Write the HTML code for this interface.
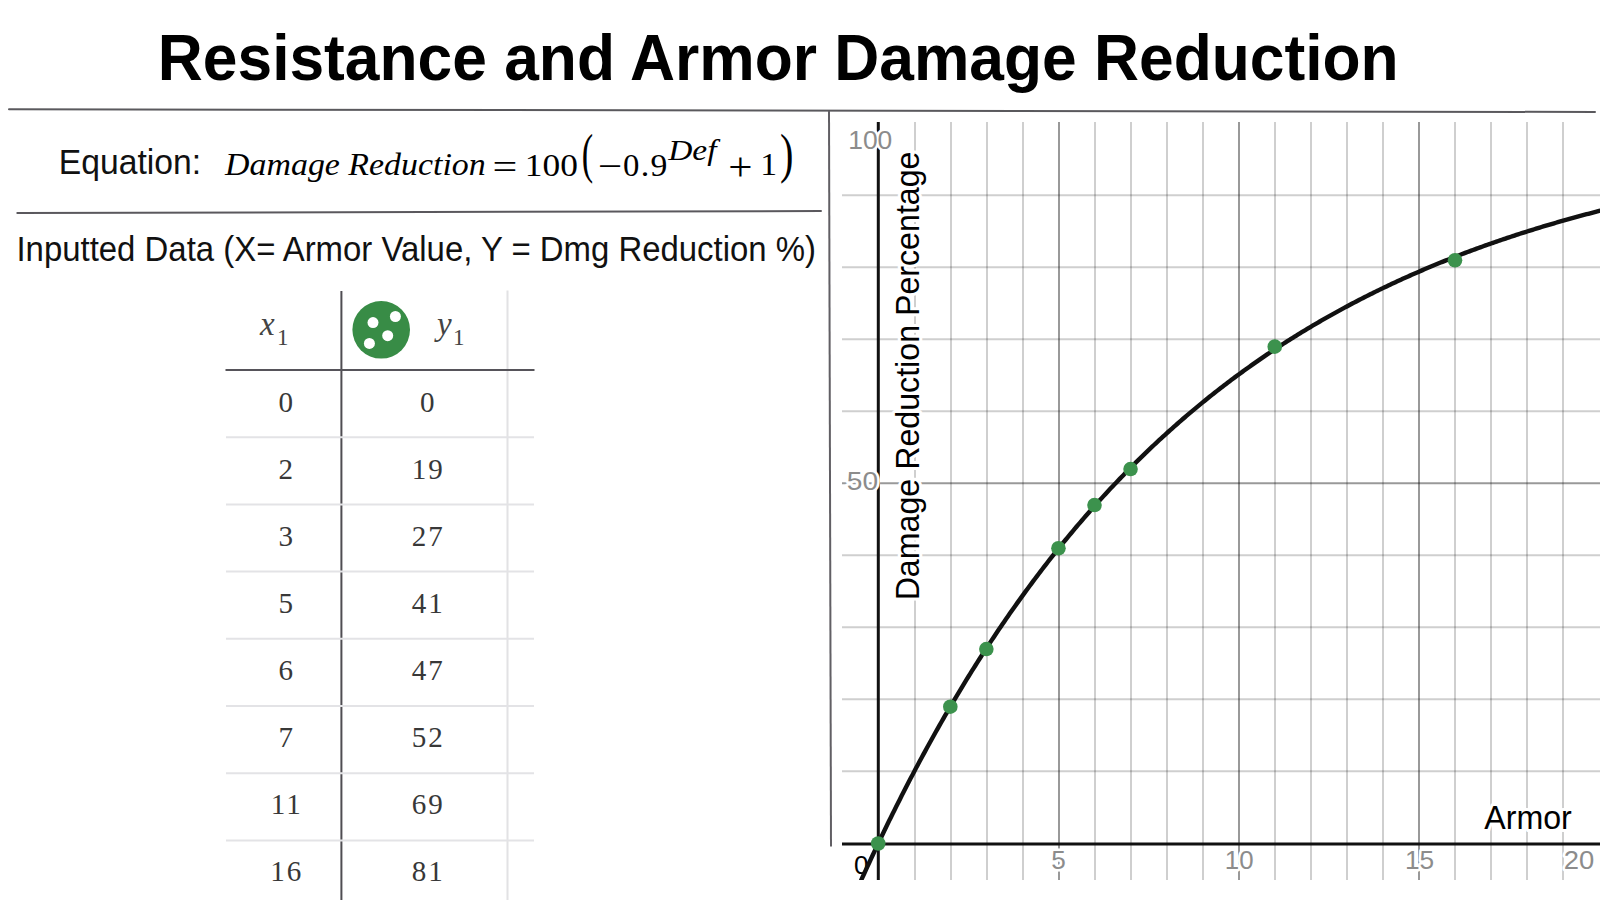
<!DOCTYPE html>
<html><head><meta charset="utf-8"><title>Resistance and Armor Damage Reduction</title>
<style>
html,body{margin:0;padding:0;background:#fff;width:1600px;height:900px;overflow:hidden}
svg{display:block}
.sans{font-family:"Liberation Sans",Arial,sans-serif}
.serif{font-family:"Liberation Serif","Times New Roman",serif}
.lbl{font-family:"Liberation Sans",Arial,sans-serif;paint-order:stroke;stroke:#fff;stroke-linejoin:round}
</style></head><body>
<svg width="1600" height="900" viewBox="0 0 1600 900">
<rect width="1600" height="900" fill="#fff"/>

<g class="sans" font-weight="bold" fill="#000"><text transform="translate(157.84,79.90) scale(1.0004,1.046)" font-size="62.3" >Resistance and Armor Damage Reduction</text></g>
<line x1="9" y1="109.2" x2="1595" y2="112" stroke="#5a595d" stroke-width="2" stroke-linecap="round"/>
<line x1="17.3" y1="213" x2="821" y2="211" stroke="#5a585d" stroke-width="2" stroke-linecap="round"/>
<line x1="829" y1="111" x2="831" y2="846.5" stroke="#615f64" stroke-width="2"/>
<g class="sans" fill="#111"><text transform="translate(58.80,173.80) scale(0.9913,1.05)" font-size="34" >Equation:</text></g>
<g class="serif" fill="#000">
<text transform="translate(225.04,175.30) scale(1.0595,1)" font-size="32" font-style="italic">Damage Reduction</text>
<text transform="matrix(1.3763,0,0,1.1250,492.60,178.56)" font-size="32" >=</text>
<text transform="translate(524.81,175.70) scale(1.1063,1)" font-size="32" >100</text>
<text transform="matrix(1.0697,0,0,1.7083,581.83,171.92)" font-size="32" >(</text>
<text transform="matrix(1.3464,0,0,1.1250,597.85,178.46)" font-size="32" >−</text>
<text transform="translate(622.94,176.00) scale(1.0231,1)" font-size="32" >0</text>
<text transform="translate(640.86,176.00) scale(1.0653,1)" font-size="32" >.</text>
<text transform="translate(650.49,176.00) scale(1.0538,1)" font-size="32" >9</text>
<text transform="translate(668.23,160.00) scale(1.1335,1)" font-size="29.5" font-style="italic">Def</text>
<text transform="matrix(1.3431,0,0,1.2708,728.25,179.77)" font-size="32" >+</text>
<text transform="matrix(1.0536,0,0,0.9943,760.17,175.30)" font-size="32" >1</text>
<text transform="matrix(1.2620,0,0,1.7188,779.99,171.65)" font-size="32" >)</text>
</g>
<g class="sans" fill="#111"><text transform="translate(16.44,260.70) scale(0.9977,1.055)" font-size="33" >Inputted Data (X= Armor Value, Y = Dmg Reduction %)</text></g>
<g>
<line x1="341.4" y1="291" x2="341.4" y2="900" stroke="#4f4d52" stroke-width="2"/>
<line x1="507.5" y1="290.5" x2="507.5" y2="900" stroke="#e2e2e4" stroke-width="2"/>
<line x1="225.5" y1="370" x2="534.5" y2="370" stroke="#56545a" stroke-width="2.2"/>
<line x1="226" y1="437.2" x2="534" y2="437.2" stroke="#e3e3e6" stroke-width="2"/>
<line x1="226" y1="504.4" x2="534" y2="504.4" stroke="#e3e3e6" stroke-width="2"/>
<line x1="226" y1="571.6" x2="534" y2="571.6" stroke="#e3e3e6" stroke-width="2"/>
<line x1="226" y1="638.8" x2="534" y2="638.8" stroke="#e3e3e6" stroke-width="2"/>
<line x1="226" y1="706.0" x2="534" y2="706.0" stroke="#e3e3e6" stroke-width="2"/>
<line x1="226" y1="773.2" x2="534" y2="773.2" stroke="#e3e3e6" stroke-width="2"/>
<line x1="226" y1="840.4" x2="534" y2="840.4" stroke="#e3e3e6" stroke-width="2"/>
<g class="serif" fill="#444">
<text x="260" y="334.5" font-size="33" font-style="italic">x</text>
<text x="277" y="345" font-size="23">1</text>
<text x="437" y="334.5" font-size="33" font-style="italic">y</text>
<text x="453" y="345" font-size="23">1</text>
</g>
<circle cx="381.2" cy="329.8" r="28.8" fill="#388c46"/>
<circle cx="373.0" cy="322.6" r="5.5" fill="#fff"/>
<circle cx="395.4" cy="316.5" r="5.5" fill="#fff"/>
<circle cx="387.7" cy="335.7" r="5.5" fill="#fff"/>
<circle cx="369.4" cy="343.4" r="5.5" fill="#fff"/>
<g class="serif" font-size="30" fill="#383838" text-anchor="middle" letter-spacing="2">
<text transform="translate(286.8,412.1) scale(0.97,1)">0</text><text transform="translate(428.2,412.1) scale(0.97,1)">0</text>
<text transform="translate(286.8,479.0) scale(0.97,1)">2</text><text transform="translate(428.2,479.0) scale(0.97,1)">19</text>
<text transform="translate(286.8,546.0) scale(0.97,1)">3</text><text transform="translate(428.2,546.0) scale(0.97,1)">27</text>
<text transform="translate(286.8,612.9) scale(0.97,1)">5</text><text transform="translate(428.2,612.9) scale(0.97,1)">41</text>
<text transform="translate(286.8,679.8) scale(0.97,1)">6</text><text transform="translate(428.2,679.8) scale(0.97,1)">47</text>
<text transform="translate(286.8,746.8) scale(0.97,1)">7</text><text transform="translate(428.2,746.8) scale(0.97,1)">52</text>
<text transform="translate(286.8,813.7) scale(0.97,1)">11</text><text transform="translate(428.2,813.7) scale(0.97,1)">69</text>
<text transform="translate(286.8,880.6) scale(0.97,1)">16</text><text transform="translate(428.2,880.6) scale(0.97,1)">81</text>
</g>
</g>
<defs><clipPath id="gc"><rect x="842" y="122" width="758" height="758"/></clipPath></defs>
<g clip-path="url(#gc)">
<line x1="915.00" y1="122" x2="915.00" y2="880" stroke="rgba(0,0,0,0.19)" stroke-width="2"/>
<line x1="951.00" y1="122" x2="951.00" y2="880" stroke="rgba(0,0,0,0.19)" stroke-width="2"/>
<line x1="987.00" y1="122" x2="987.00" y2="880" stroke="rgba(0,0,0,0.19)" stroke-width="2"/>
<line x1="1023.00" y1="122" x2="1023.00" y2="880" stroke="rgba(0,0,0,0.19)" stroke-width="2"/>
<line x1="1059.00" y1="122" x2="1059.00" y2="880" stroke="rgba(0,0,0,0.4)" stroke-width="2"/>
<line x1="1095.00" y1="122" x2="1095.00" y2="880" stroke="rgba(0,0,0,0.19)" stroke-width="2"/>
<line x1="1131.00" y1="122" x2="1131.00" y2="880" stroke="rgba(0,0,0,0.19)" stroke-width="2"/>
<line x1="1167.00" y1="122" x2="1167.00" y2="880" stroke="rgba(0,0,0,0.19)" stroke-width="2"/>
<line x1="1203.00" y1="122" x2="1203.00" y2="880" stroke="rgba(0,0,0,0.19)" stroke-width="2"/>
<line x1="1239.00" y1="122" x2="1239.00" y2="880" stroke="rgba(0,0,0,0.4)" stroke-width="2"/>
<line x1="1275.00" y1="122" x2="1275.00" y2="880" stroke="rgba(0,0,0,0.19)" stroke-width="2"/>
<line x1="1311.00" y1="122" x2="1311.00" y2="880" stroke="rgba(0,0,0,0.19)" stroke-width="2"/>
<line x1="1347.00" y1="122" x2="1347.00" y2="880" stroke="rgba(0,0,0,0.19)" stroke-width="2"/>
<line x1="1383.00" y1="122" x2="1383.00" y2="880" stroke="rgba(0,0,0,0.19)" stroke-width="2"/>
<line x1="1419.00" y1="122" x2="1419.00" y2="880" stroke="rgba(0,0,0,0.4)" stroke-width="2"/>
<line x1="1455.00" y1="122" x2="1455.00" y2="880" stroke="rgba(0,0,0,0.19)" stroke-width="2"/>
<line x1="1491.00" y1="122" x2="1491.00" y2="880" stroke="rgba(0,0,0,0.19)" stroke-width="2"/>
<line x1="1527.00" y1="122" x2="1527.00" y2="880" stroke="rgba(0,0,0,0.19)" stroke-width="2"/>
<line x1="1563.00" y1="122" x2="1563.00" y2="880" stroke="rgba(0,0,0,0.19)" stroke-width="2"/>
<line x1="842" y1="915.31" x2="1600" y2="915.31" stroke="rgba(0,0,0,0.19)" stroke-width="2"/>
<line x1="842" y1="771.29" x2="1600" y2="771.29" stroke="rgba(0,0,0,0.19)" stroke-width="2"/>
<line x1="842" y1="699.28" x2="1600" y2="699.28" stroke="rgba(0,0,0,0.19)" stroke-width="2"/>
<line x1="842" y1="627.27" x2="1600" y2="627.27" stroke="rgba(0,0,0,0.19)" stroke-width="2"/>
<line x1="842" y1="555.26" x2="1600" y2="555.26" stroke="rgba(0,0,0,0.19)" stroke-width="2"/>
<line x1="842" y1="483.25" x2="1600" y2="483.25" stroke="rgba(0,0,0,0.4)" stroke-width="2"/>
<line x1="842" y1="411.24" x2="1600" y2="411.24" stroke="rgba(0,0,0,0.19)" stroke-width="2"/>
<line x1="842" y1="339.23" x2="1600" y2="339.23" stroke="rgba(0,0,0,0.19)" stroke-width="2"/>
<line x1="842" y1="267.22" x2="1600" y2="267.22" stroke="rgba(0,0,0,0.19)" stroke-width="2"/>
<line x1="842" y1="195.21" x2="1600" y2="195.21" stroke="rgba(0,0,0,0.19)" stroke-width="2"/>
<line x1="842" y1="843.9" x2="1600" y2="843.9" stroke="#111" stroke-width="3"/>
<line x1="878.3" y1="122" x2="878.3" y2="880" stroke="#111" stroke-width="3"/>
</g>
<g class="lbl" fill="#8c8c8c" stroke-width="5">
<text transform="translate(848.19,148.60) scale(1.0161,1)" font-size="26" >100</text>
<text transform="translate(846.87,490.00) scale(1.0829,1)" font-size="26" >50</text>
<text transform="translate(1051.35,868.60) scale(1.0065,1)" font-size="26" >5</text>
<text transform="translate(1224.83,868.60) scale(0.9946,1)" font-size="26" >10</text>
<text transform="translate(1404.90,868.60) scale(1.0101,1)" font-size="26" >15</text>
<text transform="translate(1563.63,868.60) scale(1.0558,1)" font-size="26" >20</text>
</g>
<g class="lbl" fill="#000" stroke-width="5"><text transform="translate(853.96,873.60) scale(1.0016,1)" font-size="26" >0</text></g>
<g class="lbl" fill="#000" stroke-width="6"><text transform="translate(1484.20,829.10) scale(0.9973,1.04)" font-size="32.3" >Armor</text></g>
<g class="lbl" fill="#000" stroke-width="6" transform="translate(0,900) rotate(-90)"><text transform="translate(299.63,918.60) scale(0.9995,1.04)" font-size="32.2" >Damage Reduction Percentage</text></g>
<g clip-path="url(#gc)"><path d="M856.57,890.49 L858.37,886.46 L860.18,882.45 L861.98,878.46 L863.78,874.50 L865.58,870.55 L867.38,866.62 L869.19,862.72 L870.99,858.84 L872.79,854.97 L874.60,851.13 L876.40,847.30 L878.20,843.50 L880.00,839.72 L881.81,835.95 L883.61,832.21 L885.41,828.48 L887.21,824.78 L889.02,821.09 L890.82,817.43 L892.62,813.78 L894.42,810.16 L896.23,806.55 L898.03,802.96 L899.83,799.39 L901.63,795.84 L903.44,792.30 L905.24,788.79 L907.04,785.29 L908.84,781.81 L910.65,778.35 L912.45,774.91 L914.25,771.49 L916.05,768.08 L917.86,764.70 L919.66,761.33 L921.46,757.98 L923.26,754.64 L925.07,751.33 L926.87,748.03 L928.67,744.74 L930.47,741.48 L932.28,738.23 L934.08,735.00 L935.88,731.79 L937.68,728.59 L939.49,725.41 L941.29,722.25 L943.09,719.10 L944.89,715.97 L946.70,712.86 L948.50,709.76 L950.30,706.68 L952.10,703.62 L953.91,700.57 L955.71,697.54 L957.51,694.52 L959.31,691.52 L961.12,688.53 L962.92,685.56 L964.72,682.61 L966.52,679.67 L968.33,676.75 L970.13,673.84 L971.93,670.95 L973.73,668.07 L975.53,665.21 L977.34,662.36 L979.14,659.53 L980.94,656.72 L982.74,653.91 L984.55,651.13 L986.35,648.35 L988.15,645.59 L989.95,642.85 L991.76,640.12 L993.56,637.41 L995.36,634.71 L997.16,632.02 L998.97,629.35 L1000.77,626.69 L1002.57,624.04 L1004.37,621.41 L1006.18,618.80 L1007.98,616.19 L1009.78,613.61 L1011.58,611.03 L1013.39,608.47 L1015.19,605.92 L1016.99,603.38 L1018.79,600.86 L1020.60,598.35 L1022.40,595.86 L1024.20,593.38 L1026.00,590.91 L1027.81,588.45 L1029.61,586.01 L1031.41,583.58 L1033.21,581.16 L1035.02,578.75 L1036.82,576.36 L1038.62,573.98 L1040.42,571.61 L1042.23,569.26 L1044.03,566.92 L1045.83,564.58 L1047.63,562.27 L1049.44,559.96 L1051.24,557.67 L1053.04,555.39 L1054.84,553.12 L1056.65,550.86 L1058.45,548.61 L1060.25,546.38 L1062.05,544.16 L1063.86,541.94 L1065.66,539.75 L1067.46,537.56 L1069.26,535.38 L1071.07,533.22 L1072.87,531.06 L1074.67,528.92 L1076.47,526.79 L1078.28,524.67 L1080.08,522.56 L1081.88,520.47 L1083.68,518.38 L1085.49,516.30 L1087.29,514.24 L1089.09,512.19 L1090.89,510.14 L1092.70,508.11 L1094.50,506.09 L1096.30,504.08 L1098.10,502.08 L1099.91,500.09 L1101.71,498.11 L1103.51,496.14 L1105.31,494.18 L1107.12,492.24 L1108.92,490.30 L1110.72,488.37 L1112.52,486.45 L1114.33,484.54 L1116.13,482.65 L1117.93,480.76 L1119.73,478.88 L1121.54,477.01 L1123.34,475.16 L1125.14,473.31 L1126.94,471.47 L1128.75,469.64 L1130.55,467.82 L1132.35,466.01 L1134.15,464.21 L1135.96,462.42 L1137.76,460.64 L1139.56,458.87 L1141.36,457.11 L1143.17,455.35 L1144.97,453.61 L1146.77,451.87 L1148.57,450.15 L1150.38,448.43 L1152.18,446.72 L1153.98,445.02 L1155.78,443.33 L1157.59,441.65 L1159.39,439.98 L1161.19,438.32 L1162.99,436.66 L1164.80,435.02 L1166.60,433.38 L1168.40,431.75 L1170.20,430.13 L1172.01,428.52 L1173.81,426.92 L1175.61,425.32 L1177.41,423.73 L1179.22,422.16 L1181.02,420.59 L1182.82,419.03 L1184.62,417.47 L1186.43,415.93 L1188.23,414.39 L1190.03,412.86 L1191.83,411.34 L1193.64,409.83 L1195.44,408.32 L1197.24,406.83 L1199.04,405.34 L1200.85,403.86 L1202.65,402.38 L1204.45,400.92 L1206.25,399.46 L1208.06,398.01 L1209.86,396.56 L1211.66,395.13 L1213.46,393.70 L1215.27,392.28 L1217.07,390.87 L1218.87,389.46 L1220.67,388.07 L1222.48,386.67 L1224.28,385.29 L1226.08,383.92 L1227.89,382.55 L1229.69,381.18 L1231.49,379.83 L1233.29,378.48 L1235.10,377.14 L1236.90,375.81 L1238.70,374.48 L1240.50,373.16 L1242.31,371.85 L1244.11,370.55 L1245.91,369.25 L1247.71,367.96 L1249.52,366.67 L1251.32,365.39 L1253.12,364.12 L1254.92,362.86 L1256.73,361.60 L1258.53,360.35 L1260.33,359.10 L1262.13,357.86 L1263.94,356.63 L1265.74,355.41 L1267.54,354.19 L1269.34,352.97 L1271.15,351.77 L1272.95,350.57 L1274.75,349.38 L1276.55,348.19 L1278.36,347.01 L1280.16,345.83 L1281.96,344.66 L1283.76,343.50 L1285.57,342.34 L1287.37,341.19 L1289.17,340.05 L1290.97,338.91 L1292.78,337.78 L1294.58,336.65 L1296.38,335.53 L1298.18,334.42 L1299.99,333.31 L1301.79,332.21 L1303.59,331.11 L1305.39,330.02 L1307.20,328.93 L1309.00,327.85 L1310.80,326.78 L1312.60,325.71 L1314.41,324.65 L1316.21,323.59 L1318.01,322.54 L1319.81,321.49 L1321.62,320.45 L1323.42,319.41 L1325.22,318.38 L1327.02,317.36 L1328.83,316.34 L1330.63,315.33 L1332.43,314.32 L1334.23,313.32 L1336.04,312.32 L1337.84,311.33 L1339.64,310.34 L1341.44,309.36 L1343.25,308.38 L1345.05,307.41 L1346.85,306.44 L1348.65,305.48 L1350.46,304.52 L1352.26,303.57 L1354.06,302.62 L1355.86,301.68 L1357.67,300.74 L1359.47,299.81 L1361.27,298.89 L1363.07,297.96 L1364.88,297.05 L1366.68,296.13 L1368.48,295.23 L1370.28,294.32 L1372.09,293.43 L1373.89,292.53 L1375.69,291.64 L1377.49,290.76 L1379.30,289.88 L1381.10,289.01 L1382.90,288.14 L1384.70,287.27 L1386.51,286.41 L1388.31,285.55 L1390.11,284.70 L1391.91,283.85 L1393.72,283.01 L1395.52,282.17 L1397.32,281.34 L1399.12,280.51 L1400.93,279.68 L1402.73,278.86 L1404.53,278.04 L1406.33,277.23 L1408.14,276.42 L1409.94,275.62 L1411.74,274.82 L1413.54,274.02 L1415.35,273.23 L1417.15,272.45 L1418.95,271.66 L1420.75,270.88 L1422.56,270.11 L1424.36,269.34 L1426.16,268.57 L1427.96,267.81 L1429.77,267.05 L1431.57,266.29 L1433.37,265.54 L1435.17,264.80 L1436.98,264.05 L1438.78,263.31 L1440.58,262.58 L1442.38,261.85 L1444.19,261.12 L1445.99,260.40 L1447.79,259.68 L1449.59,258.96 L1451.40,258.25 L1453.20,257.54 L1455.00,256.84 L1456.80,256.13 L1458.61,255.44 L1460.41,254.74 L1462.21,254.05 L1464.01,253.37 L1465.82,252.68 L1467.62,252.00 L1469.42,251.33 L1471.22,250.66 L1473.03,249.99 L1474.83,249.32 L1476.63,248.66 L1478.43,248.00 L1480.24,247.35 L1482.04,246.70 L1483.84,246.05 L1485.64,245.41 L1487.45,244.76 L1489.25,244.13 L1491.05,243.49 L1492.85,242.86 L1494.66,242.23 L1496.46,241.61 L1498.26,240.99 L1500.06,240.37 L1501.87,239.76 L1503.67,239.14 L1505.47,238.54 L1507.27,237.93 L1509.08,237.33 L1510.88,236.73 L1512.68,236.14 L1514.48,235.54 L1516.29,234.95 L1518.09,234.37 L1519.89,233.78 L1521.69,233.20 L1523.50,232.63 L1525.30,232.05 L1527.10,231.48 L1528.90,230.92 L1530.71,230.35 L1532.51,229.79 L1534.31,229.23 L1536.11,228.67 L1537.92,228.12 L1539.72,227.57 L1541.52,227.02 L1543.32,226.48 L1545.13,225.94 L1546.93,225.40 L1548.73,224.86 L1550.53,224.33 L1552.34,223.80 L1554.14,223.27 L1555.94,222.75 L1557.74,222.22 L1559.55,221.71 L1561.35,221.19 L1563.15,220.67 L1564.95,220.16 L1566.76,219.66 L1568.56,219.15 L1570.36,218.65 L1572.16,218.15 L1573.97,217.65 L1575.77,217.15 L1577.57,216.66 L1579.37,216.17 L1581.18,215.68 L1582.98,215.20 L1584.78,214.72 L1586.58,214.24 L1588.39,213.76 L1590.19,213.28 L1591.99,212.81 L1593.79,212.34 L1595.60,211.87 L1597.40,211.41 L1599.20,210.95 L1601.00,210.49 L1602.81,210.03 L1604.61,209.57 L1606.41,209.12 L1608.21,208.67 L1610.02,208.22 L1611.82,207.78 L1613.62,207.33 L1615.42,206.89 L1617.23,206.45 L1619.03,206.02" fill="none" stroke="#111" stroke-width="4.4" stroke-linejoin="round"/>
<circle cx="878.20" cy="843.50" r="7.3" fill="#3c924d"/>
<circle cx="950.30" cy="706.68" r="7.3" fill="#3c924d"/>
<circle cx="986.35" cy="649.07" r="7.3" fill="#3c924d"/>
<circle cx="1058.45" cy="548.26" r="7.3" fill="#3c924d"/>
<circle cx="1094.50" cy="505.05" r="7.3" fill="#3c924d"/>
<circle cx="1130.55" cy="469.05" r="7.3" fill="#3c924d"/>
<circle cx="1274.75" cy="346.63" r="7.3" fill="#3c924d"/>
<circle cx="1455.00" cy="260.22" r="7.3" fill="#3c924d"/>
</g>
</svg></body></html>
